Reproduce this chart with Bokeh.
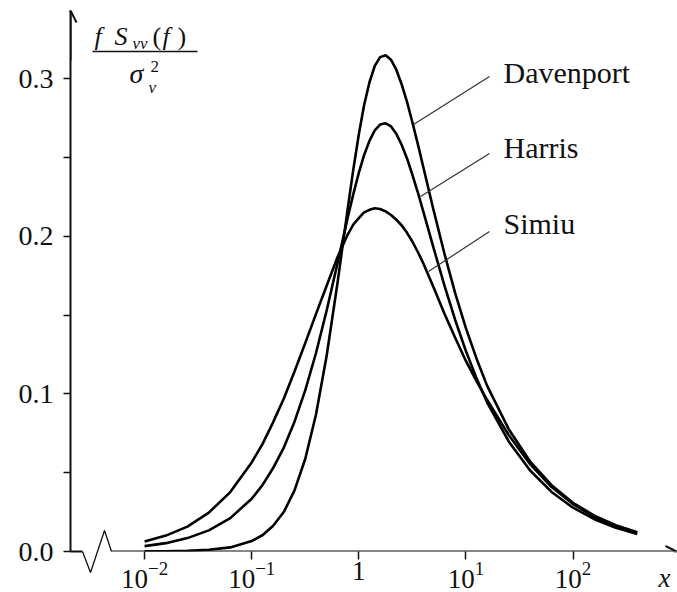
from bokeh.plotting import figure
from bokeh.models import Range1d, FixedTicker, LogTickFormatter, PrintfTickFormatter, Arrow, OpenHead
from bokeh.core.properties import value
from bokeh.embed import file_html
from bokeh.resources import INLINE

# ---------------- data ----------------
x_vals = [0.01, 0.0158, 0.0251, 0.0398, 0.0631, 0.1, 0.126, 0.158, 0.2, 0.251,
          0.316, 0.398, 0.501, 0.631, 0.794, 0.891, 1.0, 1.12, 1.26, 1.41,
          1.58, 1.78, 2.0, 2.24, 2.51, 2.82, 3.16, 3.55, 3.98, 5.01,
          6.31, 7.94, 10.0, 12.6, 15.8, 25.1, 39.8, 63.1, 100.0, 158.0,
          251.0, 398.0]
davenport = [0.0001, 0.0002, 0.0004, 0.0011, 0.0026, 0.0066, 0.0103, 0.0162, 0.0252, 0.0388,
             0.0587, 0.0868, 0.1242, 0.1698, 0.2191, 0.2429, 0.2646, 0.2832, 0.2979, 0.3081,
             0.3137, 0.3149, 0.3120, 0.3057, 0.2965, 0.2853, 0.2725, 0.2588, 0.2446, 0.2161,
             0.1889, 0.1640, 0.1417, 0.1222, 0.1051, 0.0776, 0.0571, 0.0421, 0.0309, 0.0228,
             0.0167, 0.0123]
harris = [0.0034, 0.0053, 0.0085, 0.0134, 0.0212, 0.0335, 0.0421, 0.0528, 0.0661, 0.0824,
          0.1022, 0.1258, 0.1529, 0.1826, 0.2128, 0.2271, 0.2402, 0.2515, 0.2607, 0.2672,
          0.2709, 0.2717, 0.2697, 0.2650, 0.2581, 0.2494, 0.2392, 0.2281, 0.2163, 0.1922,
          0.1687, 0.1469, 0.1272, 0.1097, 0.0945, 0.0698, 0.0514, 0.0378, 0.0278, 0.0205,
          0.0151, 0.0111]
simiu = [0.0064, 0.0101, 0.0158, 0.0247, 0.0377, 0.0565, 0.0681, 0.0818, 0.0972, 0.1142,
         0.1322, 0.1506, 0.1686, 0.1866, 0.2016, 0.2076, 0.2115, 0.2152, 0.2168, 0.2178,
         0.2173, 0.2158, 0.2135, 0.2105, 0.2070, 0.2022, 0.1967, 0.1902, 0.1832, 0.1674,
         0.1509, 0.1356, 0.1209, 0.1079, 0.0961, 0.0739, 0.0554, 0.0409, 0.0301, 0.0219,
         0.0162, 0.0119]
series_names = ["Davenport", "Harris", "Simiu"]
x_ticks = [0.01, 0.1, 1, 10, 100]
y_ticks = [0.0, 0.1, 0.2, 0.3]
y_minor_ticks = [0.05, 0.15, 0.25]

# ---------------- layout helpers (pixel -> data) ----------------
W, H = 677, 592
LEFT, TOP, BOTTOM = 70, 10, 551
X0PX, DECADE_PX = 358.3, 107.1
Y0PX, UNIT_PX = 551.0, 1576.0


def xd(px):
    return 10 ** ((px - X0PX) / DECADE_PX)


def yd(py):
    return (Y0PX - py) / UNIT_PX


FONT_NAME = "'Liberation Serif', 'Times New Roman', Times, 'DejaVu Serif', serif"
SERIF = value(FONT_NAME)
INK = "#111111"

p = figure(width=W, height=H, x_axis_type="log",
           x_range=Range1d(xd(LEFT), xd(W)), y_range=Range1d(0, yd(TOP)),
           output_backend="svg", toolbar_location=None,
           min_border_left=LEFT, min_border_right=0, min_border_top=TOP,
           min_border_bottom=H - BOTTOM)
p.grid.visible = False
p.outline_line_color = None
p.background_fill_color = "white"
p.border_fill_color = "white"

# x axis (ticks and labels from bokeh, line drawn below with a break)
xa = p.xaxis[0]
xa.ticker = FixedTicker(ticks=x_ticks)
xa.formatter = LogTickFormatter()
xa.major_label_overrides = {1: "1"}
xa.axis_line_color = None
xa.major_tick_out = 8
xa.major_tick_in = 0
xa.major_tick_line_width = 1.5
xa.major_tick_line_color = INK
xa.minor_tick_line_color = None
xa.major_label_text_font = FONT_NAME
xa.major_label_text_font_size = "27px"
xa.major_label_text_color = INK
xa.major_label_standoff = 2

ya = p.yaxis[0]
ya.ticker = FixedTicker(ticks=y_ticks, minor_ticks=y_minor_ticks)
ya.formatter = PrintfTickFormatter(format="%.1f")
ya.axis_line_width = 2
ya.axis_line_color = INK
ya.major_tick_out = 7
ya.major_tick_in = 0
ya.minor_tick_out = 7
ya.minor_tick_in = 0
ya.major_tick_line_width = 1.5
ya.minor_tick_line_width = 1.5
ya.major_tick_line_color = INK
ya.minor_tick_line_color = INK
ya.major_label_text_font = FONT_NAME
ya.major_label_text_font_size = "28px"
ya.major_label_text_color = INK
ya.major_label_standoff = 10

# curves
for ys in (davenport, harris, simiu):
    p.line(x_vals, ys, line_color="black", line_width=2.6)

# x axis line with break symbol
p.line([xd(LEFT), xd(82)], [0, 0], line_color=INK, line_width=2, level="overlay")
p.line([xd(82), xd(90), xd(104), xd(111)], [0, yd(572), yd(530), 0],
       line_color=INK, line_width=1.3, level="overlay")
p.add_layout(Arrow(end=OpenHead(size=11, line_width=2, line_color=INK),
                   x_start=xd(111), y_start=0, x_end=xd(676), y_end=0,
                   line_color=INK, line_width=2, level="overlay"))
# y axis arrow head
p.add_layout(Arrow(end=OpenHead(size=12, line_width=2, line_color=INK),
                   x_start=xd(LEFT), y_start=yd(60), x_end=xd(LEFT), y_end=yd(TOP),
                   line_color=INK, line_width=2, level="overlay"))


def put(px, py, txt, size, style="normal"):
    p.text(x=[xd(px)], y=[yd(py)], text=[txt], text_font=SERIF, text_font_size=size,
           text_font_style=style, text_color=INK, text_align="left",
           text_baseline="middle", level="overlay")


# x label
put(658, 577, "x", "27px", "italic")

# y label: f S_vv(f) / sigma_v^2
put(94, 36, "f", "26px", "italic")
put(114, 36, "S", "26px", "italic")
put(132, 43, "vv", "17px", "italic")
put(152, 36, "(", "26px")
put(162, 36, "f", "26px", "italic")
put(177, 36, ")", "26px")
p.line([xd(92), xd(197)], [yd(51), yd(51)], line_color=INK, line_width=1.5, level="overlay")
put(129, 73, "σ", "28px", "italic")
put(150, 66, "2", "17px")
put(148, 87, "v", "17px", "italic")

# series labels with leader lines
label_y_px = [72, 147, 223]
leader_start = [(413, 124), (420, 196), (428, 271)]
leader_end = [(489, 76), (489, 153), (489, 231)]
for name, ly, (sx, sy), (ex, ey) in zip(series_names, label_y_px, leader_start, leader_end):
    p.line([xd(sx), xd(ex)], [yd(sy), yd(ey)], line_color="#333333", line_width=1.2)
    put(503, ly, name, "30px")

open("out.html", "w").write(file_html(p, INLINE))
